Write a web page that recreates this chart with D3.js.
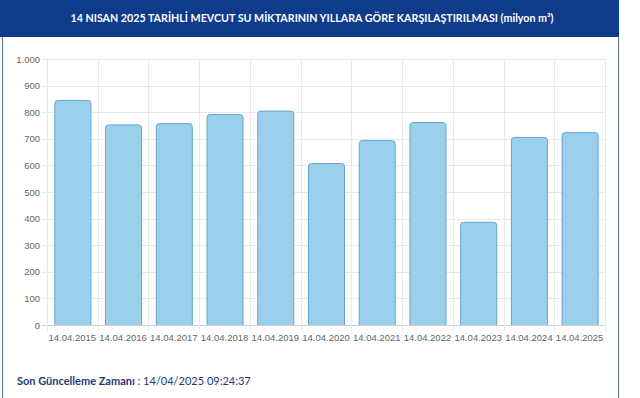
<!DOCTYPE html>
<html><head><meta charset="utf-8">
<script src="https://cdn.jsdelivr.net/npm/d3@7"></script>
<style>
html,body{margin:0;padding:0;background:#fff;}
svg{display:block;}
</style></head>
<body>
<svg id="c" width="640" height="398"></svg>
<script>
const categories = ["14.04.2015","14.04.2016","14.04.2017","14.04.2018","14.04.2019","14.04.2020","14.04.2021","14.04.2022","14.04.2023","14.04.2024","14.04.2025"];
const values = [846, 754, 759, 793, 806, 609, 695, 763, 388, 707, 725];
const yTicks = [0,100,200,300,400,500,600,700,800,900,1000];
const titleText = "14 NISAN 2025 TARİHLİ MEVCUT SU MİKTARININ YILLARA GÖRE KARŞILAŞTIRILMASI (milyon m³)";
const footerLabel = "Son Güncelleme Zamanı";
const footerValue = " : 14/04/2025 09:24:37";

const svg = d3.select("#c");
const W = 640, H = 398;

// panel borders
svg.append("rect").attr("x",2.5).attr("y",0).attr("width",616).attr("height",H+2)
  .attr("fill","#fff").attr("stroke","#6e7b96").attr("stroke-width",1.2);
// header
svg.append("rect").attr("x",0).attr("y",0).attr("width",619).attr("height",37).attr("fill","#0f3b8c");
svg.append("text").attr("x",312).attr("y",22).attr("text-anchor","middle")
  .attr("fill","#fff").attr("font-family","Lato, 'Open Sans', sans-serif").attr("font-weight","bold")
  .attr("font-size",10.7).text(titleText);

const x = d3.scaleBand().domain(categories).range([47,605]).paddingInner(0.29).paddingOuter(0.145);
const xg = d3.scaleBand().domain(categories).range([47,605]);
const y = d3.scaleLinear().domain([0,1000]).range([325,59]);

const fmt = d => d3.formatLocale({decimal:",",thousands:".",grouping:[3],currency:["",""]}).format(",")(d);

// horizontal grid
svg.append("g").selectAll("line").data(yTicks).join("line")
  .attr("x1",42).attr("x2",605).attr("y1",d=>Math.round(y(d))+0.5).attr("y2",d=>Math.round(y(d))+0.5)
  .attr("stroke",d=>d===0?"#d0d0d0":"#e8e8e8").attr("stroke-width",1);
// vertical grid at boundaries
const bounds = categories.map(c=>xg(c)).concat([605]);
svg.append("g").selectAll("line").data(bounds).join("line")
  .attr("x1",d=>Math.round(d)+0.5).attr("x2",d=>Math.round(d)+0.5).attr("y1",59).attr("y2",331)
  .attr("stroke","#e8e8e8").attr("stroke-width",1);

// y labels
svg.append("g").selectAll("text").data(yTicks).join("text")
  .attr("x",40).attr("y",d=>y(d)+3.5).attr("text-anchor","end")
  .attr("font-family","Arial, 'Liberation Sans', sans-serif").attr("font-size",9.5).attr("fill","#666")
  .text(d=>fmt(d));

// bars with rounded top
const r = 3;
svg.append("g").selectAll("path").data(values).join("path")
  .attr("d",(v,i)=>{
    const x0 = x(categories[i])+0.5, w = x.bandwidth(), yt = y(v)+0.5, yb = y(0);
    return `M${x0},${yb}V${yt+r}Q${x0},${yt} ${x0+r},${yt}H${x0+w-r}Q${x0+w},${yt} ${x0+w},${yt+r}V${yb}`;
  })
  .attr("fill","#9bd0ed").attr("stroke","#63a4cf").attr("stroke-width",1);

// x labels
svg.append("g").selectAll("text").data(categories).join("text")
  .attr("x",c=>xg(c)+xg.bandwidth()/2).attr("y",341).attr("text-anchor","middle")
  .attr("font-family","Arial, 'Liberation Sans', sans-serif").attr("font-size",9.5).attr("fill","#666")
  .text(c=>c);

// footer
const ft = svg.append("text").attr("x",17).attr("y",385)
  .attr("font-family","Lato, 'Open Sans', sans-serif").attr("font-size",11).attr("fill","#1b3a78");
ft.append("tspan").attr("font-weight","bold").text(footerLabel);
ft.append("tspan").attr("font-weight","normal").text(footerValue);
</script>
</body></html>
